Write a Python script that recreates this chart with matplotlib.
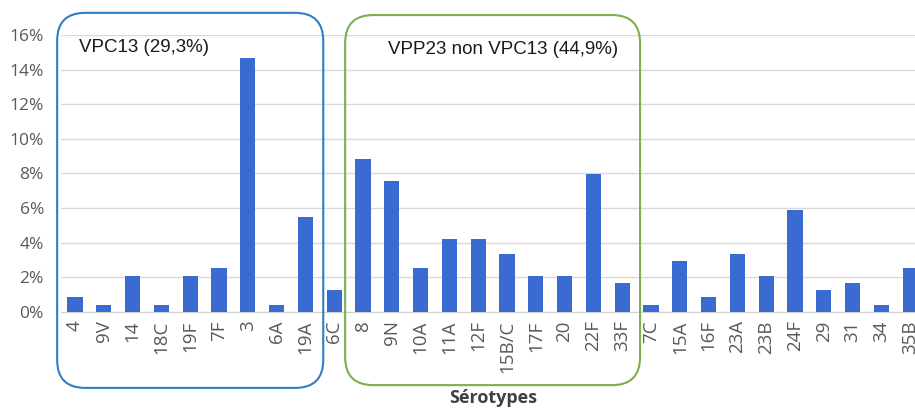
import matplotlib.pyplot as plt
from matplotlib.patches import FancyBboxPatch
from matplotlib.transforms import IdentityTransform

# serotypes et pourcentages
serotypes = ['4', '9V', '14', '18C', '19F', '7F', '3', '6A', '19A', '6C',
             '8', '9N', '10A', '11A', '12F', '15B/C', '17F', '20', '22F', '33F',
             '7C', '15A', '16F', '23A', '23B', '24F', '29', '31', '34', '35B']
pourcentages = [0.84, 0.42, 2.1, 0.42, 2.1, 2.52, 14.7, 0.42, 5.46, 1.26,
                8.82, 7.56, 2.52, 4.2, 4.2, 3.36, 2.1, 2.1, 7.98, 1.68,
                0.42, 2.94, 0.84, 3.36, 2.1, 5.88, 1.26, 1.68, 0.42, 2.52]
yticks = [0, 2, 4, 6, 8, 10, 12, 14, 16]

# groupes (premier et dernier index de chaque cadre)
groupe_vpc13 = (0, 8)
groupe_vpp23 = (10, 19)
titre_vpc13 = 'VPC13 (29,3%)'
titre_vpp23 = 'VPP23 non VPC13 (44,9%)'

W, H = 915, 408
fig = plt.figure(figsize=(W / 100, H / 100), dpi=100)
ax = fig.add_axes([60.6 / W, 96 / H, 864 / W, 277 / H])

x = range(len(serotypes))
ax.bar(x, pourcentages, width=0.53, color='#3a6bd0', zorder=3)

ax.set_xlim(-0.5, len(serotypes) - 0.5)
ax.set_ylim(0, 16)
ax.set_yticks(yticks)
ax.set_yticklabels([f'{v}%' for v in yticks])
ax.set_xticks(list(x))
ax.set_xticklabels(serotypes, rotation=90)
ax.tick_params(axis='both', length=0, labelcolor='#595959')
ax.tick_params(axis='y', pad=12, labelsize=12.5)
ax.tick_params(axis='x', pad=6, labelsize=13.5)
for lab in ax.get_xticklabels() + ax.get_yticklabels():
    lab.set_fontfamily('Open Sans')

ax.grid(axis='y', color='#d9d9d9', linewidth=1, zorder=0)
for s in ['top', 'right', 'left']:
    ax.spines[s].set_visible(False)
ax.spines['bottom'].set_color('#d0d0d0')

fig.text(493 / W, 1 - 398 / H, 'Sérotypes', ha='center', va='center',
         fontsize=13, fontweight='bold', color='#404040', family='Open Sans')

# cadres arrondis, positionnés en pixels d'après l'échelle des x
def cadre(groupe, couleur, haut, bas):
    x0 = ax.transData.transform((groupe[0] - 0.62, 0))[0]
    x1 = ax.transData.transform((groupe[1] + 0.62, 0))[0]
    y0 = ax.transAxes.transform((0, bas))[1]
    y1 = ax.transAxes.transform((0, haut))[1]
    p = FancyBboxPatch((x0, y0), x1 - x0, y1 - y0,
                       boxstyle='round,pad=0,rounding_size=28',
                       transform=IdentityTransform(), fill=False,
                       edgecolor=couleur, linewidth=1.5, zorder=5)
    fig.add_artist(p)
    return x0, y1

bx, by = cadre(groupe_vpc13, '#2f7dc4', 1.08, -0.274)
fig.text((bx + 22) / W, 1 - 47 / H, titre_vpc13, ha='left', va='center',
         fontsize=13.5, color='#1a1a1a', family='Liberation Sans')
gx, gy = cadre(groupe_vpp23, '#7ab050', 1.072, -0.264)
fig.text(503 / W, 1 - 49 / H, titre_vpp23, ha='center', va='center',
         fontsize=13.5, color='#1a1a1a', family='Liberation Sans')

fig.savefig('out.png', dpi=100)
